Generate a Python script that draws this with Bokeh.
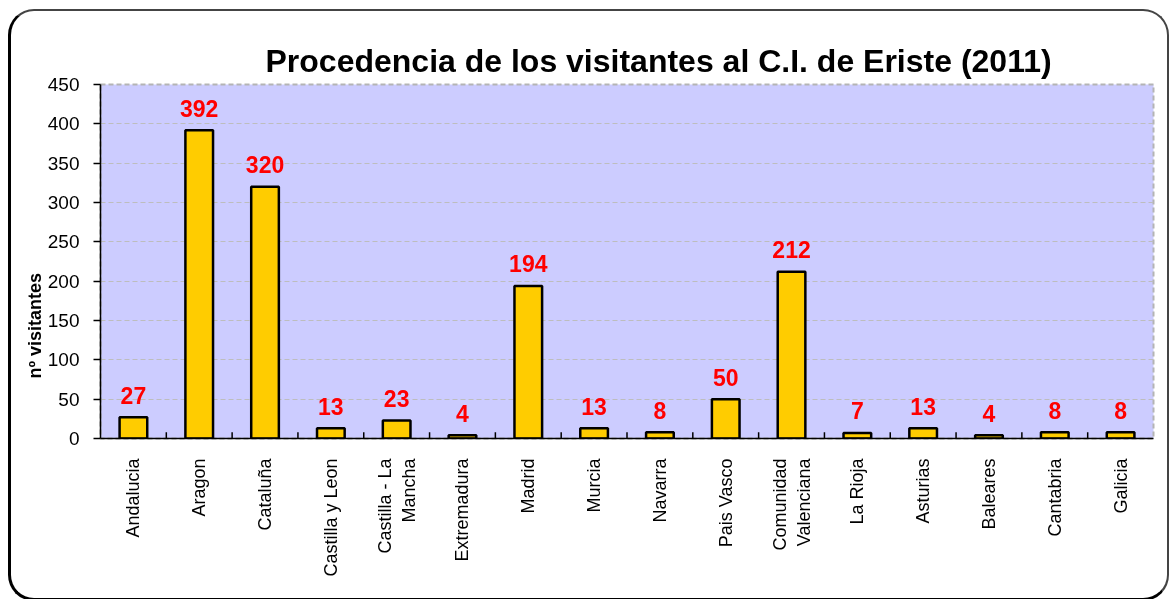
from math import pi
from bokeh.plotting import figure
from bokeh.models import ColumnDataSource, Title, FixedTicker, Range1d, FactorRange
from bokeh.core.properties import value
from bokeh.embed import file_html
from bokeh.resources import INLINE

categories = ["Andalucia", "Aragon", "Cataluña", "Castilla y Leon", "Castilla - La\nMancha",
              "Extremadura", "Madrid", "Murcia", "Navarra", "Pais Vasco",
              "Comunidad\nValenciana", "La Rioja", "Asturias", "Baleares", "Cantabria", "Galicia"]
visitantes = [27, 392, 320, 13, 23, 4, 194, 13, 8, 50, 212, 7, 13, 4, 8, 8]
y_ticks = [0, 50, 100, 150, 200, 250, 300, 350, 400, 450]
title_text = "Procedencia de los visitantes al C.I. de Eriste (2011)"
y_label = "nº visitantes"

FONT = "Liberation Sans"

p = figure(width=1161, height=592, x_range=FactorRange(*categories, range_padding=0),
           y_range=Range1d(0, 450), output_backend="svg", toolbar_location=None,
           min_border_left=89, min_border_right=19, min_border_top=73, min_border_bottom=165)

p.styles = {"position": "fixed", "left": "8px", "top": "9px",
            "border-top": "2px solid #444", "border-right": "2px solid #444",
            "border-left": "3px solid #000", "border-bottom": "3px solid #000",
            "border-radius": "26px"}
p.border_fill_color = None
p.background_fill_color = "#CCCCFF"
p.outline_line_color = "#B4B4B4"
p.outline_line_dash = "5 3"
p.outline_line_width = 2

p.title.text = title_text
p.title.text_font = FONT
p.title.text_font_size = "32px"
p.title.text_font_style = "bold"
p.title.text_color = "black"
p.title.align = "left"
p.title.offset = 165
p.title.standoff = 12

src = ColumnDataSource(dict(x=categories, top=visitantes, lab=[str(v) for v in visitantes]))

p.vbar(x="x", top="top", width=0.42, source=src, fill_color="#FFCC00",
       line_color="black", line_width=2.5)
p.text(x="x", y="top", text="lab", source=src, text_align="center",
       text_baseline="alphabetic", y_offset=-22, text_color="#FF0000",
       text_font=value(FONT), text_font_size="23px", text_font_style="bold")

# category separator ticks (inside, at boundaries)
n = len(categories)
p.segment(x0=list(range(1, n)), y0=[0] * (n - 1), x1=list(range(1, n)), y1=[8] * (n - 1),
          line_color="black", line_width=1.5)

# axes
p.yaxis.ticker = FixedTicker(ticks=y_ticks)
p.yaxis.major_tick_out = 7
p.yaxis.major_tick_in = 0
p.yaxis.minor_tick_line_color = None
p.yaxis.axis_line_color = "black"
p.yaxis.axis_line_width = 1.5
p.yaxis.major_tick_line_width = 1.5
p.yaxis.major_label_text_font = FONT
p.yaxis.major_label_text_font_size = "19px"
p.yaxis.major_label_text_color = "black"
p.yaxis.major_label_standoff = 14

p.xaxis.major_tick_line_color = None
p.xaxis.axis_line_color = "black"
p.xaxis.axis_line_width = 1.5
p.xaxis.major_label_orientation = pi / 2
p.xaxis.major_label_text_font = FONT
p.xaxis.major_label_text_font_size = "18px"
p.xaxis.major_label_text_color = "black"
p.xaxis.major_label_standoff = 14

p.xgrid.grid_line_color = None
p.ygrid.grid_line_color = "#BDBDBD"
p.ygrid.grid_line_dash = "5 3"
p.ygrid.grid_line_width = 1.2

ytitle = Title(text=y_label, align="left", offset=60, standoff=0,
               text_font=FONT, text_font_size="18px", text_font_style="bold",
               text_color="black")
p.add_layout(ytitle, "left")

open("out.html", "w").write(file_html(p, INLINE))
